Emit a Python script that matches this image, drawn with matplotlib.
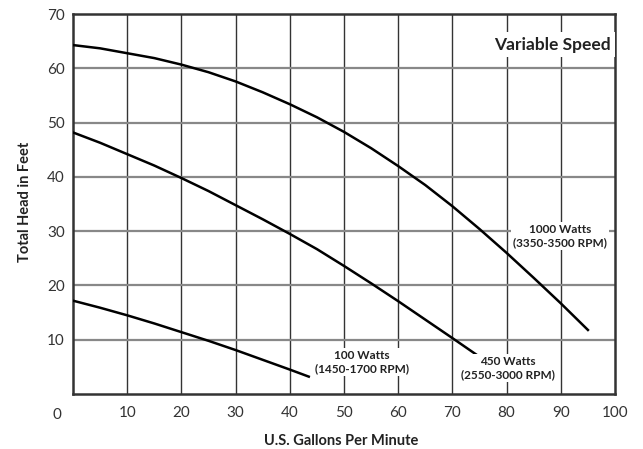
import numpy as np
import matplotlib
matplotlib.use('Agg')
import matplotlib.pyplot as plt

# pump curves (gpm, feet of head)
gpm_1000 = [0, 5, 10, 15, 20, 25, 30, 35, 40, 45, 50, 55, 60, 65, 70, 75, 80, 85, 90, 95]
head_1000 = [64.3, 63.7, 62.8, 61.9, 60.7, 59.3, 57.6, 55.6, 53.4, 51.0, 48.3, 45.3,
             42.0, 38.5, 34.6, 30.4, 26.0, 21.4, 16.7, 11.8]

gpm_450 = [0, 5, 10, 15, 20, 25, 30, 35, 40, 45, 50, 55, 60, 65, 70, 74.5]
head_450 = [48.2, 46.3, 44.2, 42.1, 39.8, 37.4, 34.8, 32.2, 29.5, 26.7, 23.6, 20.4,
            17.1, 13.7, 10.3, 7.2]

gpm_100 = [0, 5, 10, 15, 20, 25, 30, 35, 40, 43.5]
head_100 = [17.2, 15.9, 14.5, 13.0, 11.4, 9.8, 8.1, 6.3, 4.5, 3.2]

curve_labels = ['100 Watts\n(1450-1700 RPM)', '450 Watts\n(2550-3000 RPM)',
                '1000 Watts\n(3350-3500 RPM)']
label_pos = [(53.3, 5.9), (80.3, 4.8), (89.9, 29.1)]

x_ticks = [10, 20, 30, 40, 50, 60, 70, 80, 90, 100]
y_ticks = [10, 20, 30, 40, 50, 60, 70]

plt.rcParams['font.family'] = ['Lato', 'DejaVu Sans']

fig = plt.figure(figsize=(6.43, 4.49), dpi=100)
ax = fig.add_axes([0.1135, 0.1225, 0.843, 0.846])

# grid: horizontal lines grey, vertical lines dark
for v in range(10, 100, 10):
    ax.axvline(v, color='#333333', lw=1.0, zorder=1)
for h in range(10, 70, 10):
    ax.axhline(h, color='#888888', lw=1.6, zorder=1)

ax.plot(gpm_1000, head_1000, color='black', lw=1.8, zorder=3)
ax.plot(gpm_450, head_450, color='black', lw=1.8, zorder=3)
ax.plot(gpm_100, head_100, color='black', lw=1.8, zorder=3)

box = dict(facecolor='white', edgecolor='none', pad=1.5)
for txt, (lx, ly) in zip(curve_labels, label_pos):
    ax.text(lx, ly, txt, ha='center', va='center', fontsize=8.5,
            fontweight='bold', color='#222222', bbox=box, zorder=4,
            linespacing=1.2)

ax.text(88.4, 64.4, 'Variable Speed', ha='center', va='center', fontsize=12.5,
        fontweight='bold', color='#222222',
        bbox=dict(facecolor='white', edgecolor='none', pad=3), zorder=4)

ax.set_xlim(0, 100)
ax.set_ylim(0, 70)
ax.set_xticks(x_ticks)
ax.set_yticks(y_ticks)
ax.tick_params(length=0, labelsize=11, labelcolor='#333333', pad=9)
ax.tick_params(axis='y', pad=6)
ax.text(-0.03, -0.055, '0', transform=ax.transAxes, ha='center', va='center',
        fontsize=11, color='#333333')

for s in ax.spines.values():
    s.set_color('#333333')
    s.set_linewidth(1.8)

fig.text(341 / 643, 1 - 441 / 449, 'U.S. Gallons Per Minute', ha='center',
         va='center', fontsize=10.5, fontweight='bold', color='#222222')
fig.text(25 / 643, 1 - 202 / 449, 'Total Head in Feet', ha='center',
         va='center', rotation=90, fontsize=10.5, fontweight='bold',
         color='#222222')

fig.savefig('out.png', dpi=100)
